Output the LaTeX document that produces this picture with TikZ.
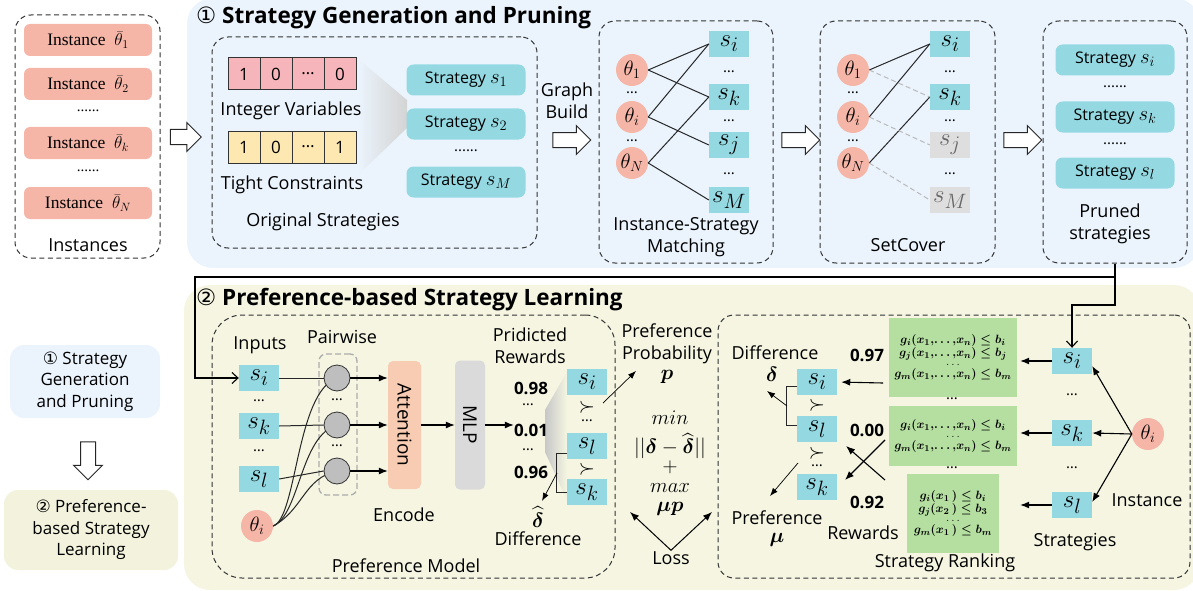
\documentclass[tikz,border=0pt]{standalone}
\usepackage{amsmath, amssymb}
\usepackage{graphicx}
\usepackage{fontspec}
\setmainfont{Open Sans}
\newfontfamily\serifrm{Liberation Serif}
\newfontfamily\circfont{DejaVu Sans}
\newcommand{\stratvar}[1]{{\fontsize{20.74}{22}\selectfont$#1$}}
\definecolor{panelblue}{RGB}{235, 244, 253}
\definecolor{panelsand}{RGB}{245, 245, 226}
\definecolor{legendsand}{RGB}{243, 243, 221}
\definecolor{instred}{RGB}{245, 182, 168}
\definecolor{stratteal}{RGB}{148, 217, 226}
\definecolor{cellpink}{RGB}{245, 181, 186}
\definecolor{cellyellow}{RGB}{253, 232, 178}
\definecolor{prunegray}{RGB}{222, 222, 222}
\definecolor{rankgreen}{RGB}{180, 223, 160}
\definecolor{attnorange}{RGB}{248, 204, 178}
\definecolor{mlpgray}{RGB}{218, 218, 218}
\definecolor{pairgray}{RGB}{190, 190, 190}
\usetikzlibrary{shapes.arrows, arrows.meta, positioning, calc}

\begin{document}
\begin{tikzpicture}[
  x=1pt, y=-1pt,
  lbl/.style={font=\fontsize{18}{22}\selectfont, align=center, inner sep=1pt},
  headtxt/.style={font=\fontsize{22.5}{26}\selectfont\bfseries, anchor=west, inner sep=0pt},
  dbox/.style={draw=black!80, dash pattern=on 5pt off 3.5pt, line width=1pt, rounded corners=16pt},
  inst/.style={fill=instred, rounded corners=6pt, minimum width=128, minimum height=32, font=\serifrm\fontsize{17.5}{20}\selectfont},
  cell/.style={draw=black!80, line width=1pt, minimum size=32, inner sep=0pt, font=\fontsize{17}{20}\selectfont},
  sbox/.style={fill=stratteal, rounded corners=7pt, minimum width=119, minimum height=31, font=\fontsize{16}{19}\selectfont},
  sq/.style={fill=stratteal, minimum width=40, minimum height=26, inner sep=0pt, font=\fontsize{24.88}{26}\selectfont},
  theta/.style={circle, fill=instred, minimum size=32, inner sep=0pt, font=\fontsize{20.74}{22}\selectfont},
  pcirc/.style={circle, draw=black!80, fill=pairgray, minimum size=26, inner sep=0pt, line width=0.8pt},
  dotsl/.style={font=\fontsize{15}{18}\selectfont, inner sep=0pt},
  numlbl/.style={font=\fontsize{17}{20}\selectfont\bfseries, inner sep=0pt},
  mathlbl/.style={font=\fontsize{20.74}{22}\selectfont, inner sep=0pt},
  eqbox/.style={fill=rankgreen, align=center, inner sep=2pt, font=\fontsize{12.5}{15}\selectfont},
  legbox/.style={rounded corners=14pt, align=center, font=\fontsize{17}{21.5}\selectfont},
  link/.style={line width=1pt, black!85},
  cutlink/.style={line width=1pt, gray!55, dash pattern=on 5pt off 3pt},
  arr/.style={line width=1.1pt, -{Latex[length=9pt, width=7pt]}},
  thinarr/.style={line width=0.7pt, -{Latex[length=8pt, width=6pt]}},
  feed/.style={line width=1.1pt, -{Straight Barb[length=6pt, width=11pt]}},
  bigarrow/.style={single arrow, draw=black!85, fill=white, line width=1pt, inner sep=7pt, single arrow head extend=7pt, minimum height=38}
]
  \useasboundingbox (0,0) rectangle (1193,591);
  \fill[panelblue, rounded corners=26pt] (187,-2) rectangle (1200,268);
  \fill[panelsand, rounded corners=26pt] (184,285) rectangle (1200,590);

  \node[dbox, minimum width=145, minimum height=243] (instbox) at (87.5,136.5) {};
  \node[inst] (inst1) at (88,40) {Instance\ \ $\bar{\theta}_1$};
  \node[inst] (inst2) at (88,84) {Instance\ \ $\bar{\theta}_2$};
  \node[dotsl, font=\serifrm\fontsize{15}{18}\selectfont] (instdots1) at (88,111) {......};
  \node[inst] (instk) at (88,143) {Instance\ \ $\bar{\theta}_k$};
  \node[dotsl, font=\serifrm\fontsize{15}{18}\selectfont] (instdots2) at (88,171) {......};
  \node[inst] (instN) at (88,203) {Instance\ \ $\bar{\theta}_N$};
  \node[lbl] (instlbl) at (88,245) {Instances};
  \node[bigarrow, minimum height=31] (toGen) at (182,137) {};

  \node[headtxt] (gentitle) at (196,18) {{\circfont\mdseries ①} Strategy Generation and Pruning};

  \node[dbox, minimum width=325, minimum height=211] (origbox) at (374.5,142.5) {};
  \shade[left color=panelblue, right color=black!17] (357,58) -- (407,100) -- (407,128) -- (357,176) -- cycle;
  \foreach \v [count=\i] in {1,0,\ldots,0}
    \node[cell, fill=cellpink] (iv\i) at (212+32*\i,74) {\v};
  \foreach \v [count=\i] in {1,0,\ldots,1}
    \node[cell, fill=cellyellow] (tc\i) at (212+32*\i,147) {\v};
  \node[lbl] (ivlbl) at (291,111) {Integer Variables};
  \node[lbl] (tclbl) at (292,185) {Tight Constraints};
  \node[sbox] (strat1) at (466,80) {Strategy \stratvar{s_1}};
  \node[sbox] (strat2) at (466,124) {Strategy \stratvar{s_2}};
  \node[dotsl] (stratdots) at (466,151) {......};
  \node[sbox] (stratM) at (466,182) {Strategy \stratvar{s_M}};
  \node[lbl] (origlbl) at (323,222) {Original Strategies};

  \node[lbl] (gbuild) at (567,101) {Graph\\Build};
  \node[bigarrow] (toMatch) at (568,140) {};

  \node[dbox, minimum width=174, minimum height=242] (matchbox) at (686,142) {};
  \foreach \n/\y in {1/70, i/117, N/163}
    \node[theta] (m\n) at (632,\y) {$\theta_\n$};
  \foreach \y in {93,141}
    \node[dotsl] (mdots\y) at (632,\y) {\ldots};
  \foreach \n/\y in {i/44, k/97, j/145, M/200}
    \node[sq] (ms\n) at (729,\y) {$s_\n$};
  \foreach \y in {72,121,174}
    \node[dotsl] (msdots\y) at (729,\y) {\ldots};
  \foreach \a/\b in {1/i, 1/k, i/i, i/j, N/k, N/M}
    \draw[link] (m\a.east) -- (ms\b.west);
  \node[lbl] (matchlbl) at (686,237) {Instance-Strategy\\Matching};
  \node[bigarrow] (toCover) at (797,140) {};

  \node[dbox, minimum width=175, minimum height=242] (coverbox) at (907.5,142) {};
  \foreach \n/\y in {1/70, i/117, N/163}
    \node[theta] (c\n) at (853,\y) {$\theta_\n$};
  \foreach \y in {93,141}
    \node[dotsl] (cdots\y) at (853,\y) {\ldots};
  \foreach \n/\y/\c/\t in {i/44/stratteal/black, k/97/stratteal/black, j/145/prunegray/black!60, M/200/prunegray/black!60}
    \node[sq, fill=\c, text=\t] (cs\n) at (950,\y) {$s_\n$};
  \foreach \y in {72,121,174}
    \node[dotsl] (csdots\y) at (950,\y) {\ldots};
  \foreach \a/\b in {1/i, i/i, N/k}
    \draw[link] (c\a.east) -- (cs\b.west);
  \foreach \a/\b in {1/k, i/j, N/M}
    \draw[cutlink] (c\a.east) -- (cs\b.west);
  \node[lbl] (coverlbl) at (908,245) {SetCover};
  \node[bigarrow] (toPrune) at (1019,140) {};

  \node[dbox, minimum width=144, minimum height=242] (prunebox) at (1115,142) {};
  \node[sbox] (ps1) at (1115,60) {Strategy \stratvar{s_i}};
  \node[dotsl] (psdots1) at (1115,87) {......};
  \node[sbox] (ps2) at (1115,117) {Strategy \stratvar{s_k}};
  \node[dotsl] (psdots2) at (1115,144) {......};
  \node[sbox] (ps3) at (1115,173) {Strategy \stratvar{s_l}};
  \node[lbl] (prunelbl) at (1110,224) {Pruned\\strategies};

  \node[headtxt] (preftitle) at (196,300) {{\circfont\mdseries ②} Preference-based Strategy Learning};

  \node[dbox, rounded corners=30pt, minimum width=403, minimum height=263] (prefbox) at (413.5,446.5) {};
  \node[lbl] (inlbl) at (260,345) {Inputs};
  \node[lbl] (pwlbl) at (342,337) {Pairwise};
  \node[sq] (isi) at (259,378) {$s_i$};
  \node[dotsl] (isdots1) at (259,401) {\ldots};
  \node[sq] (isk) at (259,426) {$s_k$};
  \node[dotsl] (isdots2) at (259,451) {\ldots};
  \node[sq] (isl) at (259,479) {$s_l$};
  \node[theta] (ith) at (257,526) {$\theta_i$};
  \node[draw=gray!65, dash pattern=on 6pt off 3pt, line width=1.3pt, rounded corners=7pt, minimum width=38, minimum height=141] (pwbox) at (338,424.5) {};
  \node[dotsl] (pwdots1) at (337,400) {\ldots};
  \node[dotsl] (pwdots2) at (337,446) {\ldots};
  \node[fill=attnorange, rounded corners=5pt, minimum width=33, minimum height=128, inner sep=0pt, font=\fontsize{19}{20}\selectfont] (att) at (404.5,425) {\rotatebox{-90}{Attention}};
  \node[fill=mlpgray, rounded corners=5pt, minimum width=30, minimum height=129, inner sep=0pt, font=\fontsize{19}{20}\selectfont] (mlp) at (470,425) {\rotatebox{-90}{MLP}};
  \draw[link] (ith.east) .. controls (297,518) and (296,392) .. (337,378) coordinate (pw1c);
  \draw[link] (ith.east) .. controls (300,514) and (300,436) .. (337,425) coordinate (pw2c);
  \draw[link] (ith.east) .. controls (303,510) and (304,478) .. (337,471) coordinate (pw3c);
  \node[pcirc] (pw1) at (337,378) {};
  \node[pcirc] (pw2) at (337,425) {};
  \node[pcirc] (pw3) at (337,471) {};
  \foreach \k/\s in {1/i, 2/k, 3/l} {
    \draw[link] (is\s.east) -- (pw\k.west);
    \draw[arr] (pw\k.east) -- (pw\k -| att.west);
  }
  \draw[arr] (att.east) -- (mlp.west);
  \node[lbl] (enclbl) at (404,515) {Encode};
  \node[lbl] (pridlbl) at (530,346) {Pridicted\\Rewards};
  \shade[left color=black!22, right color=panelsand] (545,410) -- (567,372) -- (567,500) -- (545,452) -- cycle;
  \node[numlbl] (v1) at (531,388) {0.98};
  \node[dotsl] (vdots1) at (528,405) {\ldots};
  \node[numlbl] (v2) at (531,430) {0.01};
  \node[dotsl] (vdots2) at (528,450) {\ldots};
  \node[numlbl] (v3) at (531,472) {0.96};
  \draw[arr] (mlp.east) -- (mlp.east -| v2.west);
  \node[sq] (psi) at (587,382) {$s_i$};
  \node[mathlbl] (psucc1) at (587,407) {$\succ$};
  \node[dotsl] (psdots) at (587,421) {\ldots};
  \node[sq] (psl) at (587,446) {$s_l$};
  \node[mathlbl] (psucc2) at (587,469) {$\succ$};
  \node[sq] (psk) at (587,492) {$s_k$};
  \draw[link] ([yshift=-7pt]psl.west) -- ++(-10,0) |- (psk.west);
  \coordinate (dhtail) at (557,473);
  \coordinate (dhtip) at (542,501);
  \draw[thinarr] (dhtail) -- (dhtip);
  \node[mathlbl] (dhat) at (538,517) {$\widehat{\boldsymbol{\delta}}$};
  \node[lbl] (difflbl) at (538,539) {Difference};
  \node[lbl] (pmlbl) at (406,566) {Preference Model};
  \coordinate (probtail) at (603,403);
  \coordinate (probtip) at (636,371);
  \draw[thinarr] (probtail) -- (probtip);

  \node[lbl] (problbl) at (667,344) {Preference\\Probability};
  \node[mathlbl] (pvar) at (667,377) {$\boldsymbol{p}$};
  \node[mathlbl] (minlbl) at (670,418) {$min$};
  \node[mathlbl] (normlbl) at (670,446) {$||\boldsymbol{\delta}-\widehat{\boldsymbol{\delta}}||$};
  \node[mathlbl] (pluslbl) at (670,467) {$+$};
  \node[mathlbl] (maxlbl) at (670,488) {$max$};
  \node[mathlbl] (muplbl) at (670,509) {$\boldsymbol{\mu p}$};
  \node[lbl] (losslbl) at (671,558) {Loss};
  \coordinate (lossL) at (630,512);
  \coordinate (lossR) at (712,512);
  \draw[arr, line width=1pt] (losslbl.north) -- (lossL);
  \draw[arr, line width=1pt] (losslbl.north) -- (lossR);

  \node[dbox, minimum width=472, minimum height=263] (rankbox) at (954,446.5) {};
  \node[lbl] (rdifflbl) at (775,353) {Difference};
  \node[mathlbl] (rdelta) at (772,374) {$\boldsymbol{\delta}$};
  \node[sq] (ksi) at (817,382) {$s_i$};
  \node[mathlbl] (ksucc1) at (817,405) {$\succ$};
  \node[sq] (ksl) at (817,429) {$s_l$};
  \node[mathlbl] (ksucc2) at (817,453) {$\succ$};
  \node[dotsl] (kdots) at (817,466) {\ldots};
  \node[sq] (ksk) at (817,487) {$s_k$};
  \draw[link] ([yshift=-4pt]ksi.west) -- ++(-10,0) |- ([yshift=4pt]ksl.west);
  \coordinate (dtail) at (787,406);
  \coordinate (dtip) at (767,391);
  \draw[thinarr] (dtail) -- (dtip);
  \coordinate (mutail) at (798,463);
  \coordinate (mutip) at (770,496);
  \draw[thinarr] (mutail) -- (mutip);
  \node[lbl] (rpreflbl) at (777,518) {Preference};
  \node[mathlbl] (rmu) at (777,540) {$\boldsymbol{\mu}$};
  \node[numlbl] (r1) at (867,355) {0.97};
  \node[numlbl] (r2) at (867,430) {0.00};
  \node[numlbl] (r3) at (867,502) {0.92};
  \node[lbl] (rewlbl) at (863,533) {Rewards};
  \node[eqbox, minimum width=128, minimum height=79] (eq1) at (953,357.5) {$\boldsymbol{g_i(x_1,\!\ldots,\!x_n)\le b_i}$\\[-2pt]$\boldsymbol{g_j(x_1,\!\ldots,\!x_n)\le b_j}$\\[-6pt]$\ldots$\\[-3pt]$\boldsymbol{g_m(x_1,\!\ldots,\!x_n)\le b_m}$};
  \node[dotsl] (eqdots1) at (952,399) {\ldots};
  \node[eqbox, minimum width=128, minimum height=60] (eq2) at (953,436) {$\boldsymbol{g_i(x_1,\!\ldots,\!x_n)\le b_i}$\\[-6pt]$\ldots$\\[-3pt]$\boldsymbol{g_m(x_1,\!\ldots,\!x_n)\le b_m}$};
  \node[dotsl] (eqdots2) at (952,468) {\ldots};
  \node[eqbox, minimum width=92, minimum height=79] (eq3) at (953,513.5) {$\boldsymbol{g_i(x_1\,)\le b_i}$\\[-2pt]$\boldsymbol{g_j(x_2\,)\le b_3}$\\[-6pt]$\ldots$\\[-3pt]$\boldsymbol{g_m(x_1\,)\le b_m}$};
  \coordinate (w1tail) at (883,383);
  \draw[arr, shorten >=4pt] (w1tail) -- (ksi.east);
  \coordinate (x1tail) at (885,440);
  \coordinate (x1tip) at (845,480);
  \coordinate (x2tail) at (885,480);
  \coordinate (x2tip) at (846,446);
  \draw[arr] (x1tail) -- (x1tip);
  \draw[arr] (x2tail) -- (x2tip);
  \node[sq] (rsi) at (1072,361) {$s_i$};
  \node[dotsl] (rdots1) at (1072,395) {\ldots};
  \node[sq] (rsk) at (1072,433) {$s_k$};
  \node[dotsl] (rdots2) at (1072,468) {\ldots};
  \node[sq] (rsl) at (1072,505) {$s_l$};
  \node[theta] (rth) at (1148,434) {$\theta_i$};
  \draw[arr] (rth.west) -- ([yshift=-5pt]rsi.east);
  \draw[arr] (rth.west) -- (rsk.east);
  \draw[arr] (rth.west) -- ([yshift=3pt]rsl.east);
  \foreach \s in {rsi, rsk, rsl}
    \draw[arr, shorten >=3pt] (\s.west) -- (\s.west -| eq1.east);
  \node[lbl] (rinstlbl) at (1147,500) {Instance};
  \node[lbl] (rstratlbl) at (1075,542) {Strategies};
  \node[lbl] (ranklbl) at (945,563) {Strategy Ranking};

  \coordinate (jn) at (1115,277);
  \coordinate (feedL) at (195,378);
  \coordinate (feedR) at (1115,305);
  \draw[line width=1.1pt] (prunebox.south) -- (jn);
  \draw[feed] (jn) -| (feedL) -- (isi.west);
  \draw[feed] (jn) -- (feedR) -| (rsi.north);

  \node[legbox, fill=panelblue, minimum width=150, minimum height=73] (leg1) at (85,381.5) {{\circfont ①} Strategy\\Generation\\and Pruning};
  \node[bigarrow, shape border rotate=270] (legarrow) at (88,457) {};
  \node[legbox, fill=legendsand, minimum width=174, minimum height=80] (leg2) at (91,530) {{\circfont ②} Preference-\\based Strategy\\Learning};
\end{tikzpicture}
\end{document}
